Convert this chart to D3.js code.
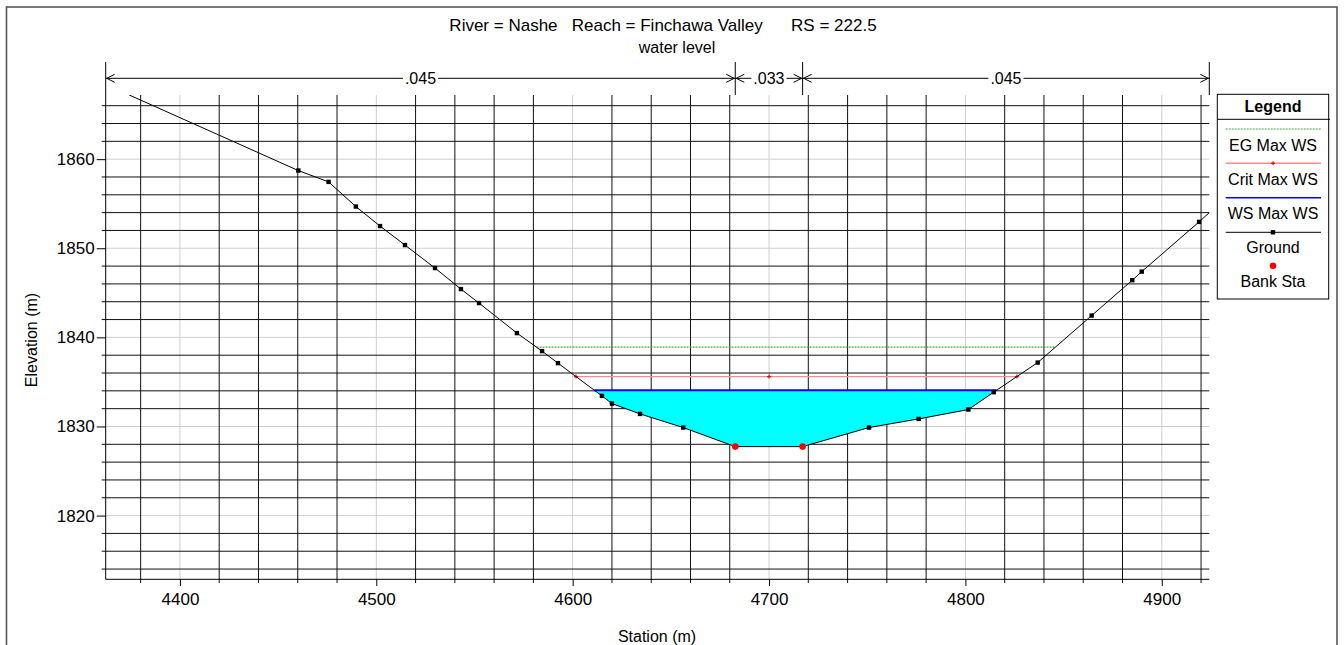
<!DOCTYPE html>
<html>
<head>
<meta charset="utf-8">
<script src="https://cdn.jsdelivr.net/npm/d3@7"></script>
<style>
  body { margin: 0; background: #fff; }
  svg { display: block; font-family: "Liberation Sans", Arial, sans-serif; }
</style>
</head>
<body>
<svg id="chart" width="1344" height="645"></svg>
<script>
// Cross section at RS 222.5 (River Nashe, Reach Finchawa Valley)
const groundStation = [4374.2, 4460.3, 4475.7, 4489.6, 4501.9, 4514.6, 4529.9, 4543.1, 4552.3,
  4571.6, 4584.4, 4592.5, 4614.9, 4620.0, 4634.3, 4656.3, 4682.8, 4717.1, 4750.9, 4776.2,
  4801.5, 4814.4, 4836.8, 4864.3, 4885.0, 4889.8, 4919.0, 4924.2];
const groundElevation = [1867.2, 1858.72, 1857.45, 1854.68, 1852.49, 1850.36, 1847.78, 1845.42, 1843.85,
  1840.48, 1838.46, 1837.11, 1833.43, 1832.57, 1831.41, 1829.88, 1827.74, 1827.74, 1829.88, 1830.85,
  1831.90, 1833.85, 1837.17, 1842.45, 1846.42, 1847.38, 1852.96, 1854.0];

const bankStations = [4682.8, 4717.1];
const wsElevation = 1834.07;     // WS Max WS
const critElevation = 1835.6;    // Crit Max WS
const critMidStations = [4700];  // interior crit point
const egElevation = 1838.9;      // EG Max WS

const manningN = [".045", ".033", ".045"];

const xTickValues = [4400, 4500, 4600, 4700, 4800, 4900];
const yTickValues = [1820, 1830, 1840, 1850, 1860];
const xGridStations = d3.range(4380, 4921, 20);
const yGridElevations = d3.range(1814, 1867, 2);

const legendLabels = ["EG Max WS", "Crit Max WS", "WS Max WS", "Ground", "Bank Sta"];

const EG_COLOR = "#47a447", CRIT_COLOR = "#ff8a8a";

const svg = d3.select("#chart");

const x = d3.scaleLinear().domain([4362.2, 4924.2]).range([105.7, 1209.3]);
const y = d3.scaleLinear().domain([1812.85, 1867.2]).range([579.3, 95]);
const [xL, xR] = x.range();
const [yB, yT] = y.range();

// outer frame
svg.append("rect").attr("x", 6.5).attr("y", 7).attr("width", 1330.5).attr("height", 660)
  .attr("fill", "none").attr("stroke", "#555").attr("stroke-width", 1.6);

// titles
svg.append("text").attr("x", 663).attr("y", 30.5).attr("text-anchor", "middle")
  .attr("font-size", 17).style("white-space", "pre")
  .text("River = Nashe   Reach = Finchawa Valley      RS = 222.5");
svg.append("text").attr("x", 677).attr("y", 53).attr("text-anchor", "middle")
  .attr("font-size", 16).text("water level");

// grid
const grid = svg.append("g");
const isMajorX = s => s % 100 === 0;
const isMajorY = e => e % 10 === 0;
// light major lines first
grid.selectAll(".vmaj").data(xTickValues).join("line")
  .attr("x1", d => x(d)).attr("x2", d => x(d)).attr("y1", yT).attr("y2", yB)
  .attr("stroke", "#cfcfcf").attr("stroke-width", 1);
grid.selectAll(".hmaj").data(yTickValues).join("line")
  .attr("x1", xL).attr("x2", xR).attr("y1", d => y(d)).attr("y2", d => y(d))
  .attr("stroke", "#cfcfcf").attr("stroke-width", 1);
grid.selectAll(".hmin").data(yGridElevations.filter(e => !isMajorY(e))).join("line")
  .attr("x1", xL - 4).attr("x2", xR).attr("y1", d => y(d)).attr("y2", d => y(d))
  .attr("stroke", "#111").attr("stroke-width", 1);
grid.selectAll(".vmin").data(xGridStations.filter(s => !isMajorX(s))).join("line")
  .attr("x1", d => x(d)).attr("x2", d => x(d)).attr("y1", yT).attr("y2", yB + 3.7)
  .attr("stroke", "#111").attr("stroke-width", 1);

// axes (major ticks + labels)
const xAxis = d3.axisBottom(x).tickValues(xTickValues).tickFormat(d3.format("d"))
  .tickSize(6.7).tickPadding(6.5).tickSizeOuter(0);
const yAxis = d3.axisLeft(y).tickValues(yTickValues).tickFormat(d3.format("d"))
  .tickSize(9).tickPadding(2).tickSizeOuter(0);
const gx = svg.append("g").attr("transform", `translate(0,${yB})`).call(xAxis);
const gy = svg.append("g").attr("transform", `translate(${xL},0)`).call(yAxis);
[gx, gy].forEach(g => {
  g.select(".domain").remove();
  g.selectAll("text").attr("font-size", 17).attr("font-family", "Liberation Sans, Arial, sans-serif").attr("fill", "#000");
  g.selectAll("line").attr("stroke", "#000");
});
svg.append("line").attr("x1", xL).attr("x2", xL).attr("y1", 62).attr("y2", yB).attr("stroke", "#000");
svg.append("line").attr("x1", xL).attr("x2", xR).attr("y1", yB).attr("y2", yB).attr("stroke", "#000");

svg.append("text").attr("transform", "translate(31,340) rotate(-90)").attr("text-anchor", "middle")
  .attr("dominant-baseline", "central").attr("font-size", 16).text("Elevation (m)");
svg.append("text").attr("x", 657).attr("y", 642).attr("text-anchor", "middle")
  .attr("font-size", 16).text("Station (m)");

// Manning's n band
const nBounds = [x.domain()[0], bankStations[0], bankStations[1], x.domain()[1]];
const nY = 78.3;
const band = svg.append("g").attr("stroke", "#000").attr("fill", "none");
nBounds.slice(1).forEach(s => {
  band.append("line").attr("x1", x(s)).attr("x2", x(s)).attr("y1", 62).attr("y2", yT);
});
manningN.forEach((label, i) => {
  const a = x(nBounds[i]), b = x(nBounds[i + 1]), mid = (a + b) / 2;
  const t = svg.append("text").attr("x", mid).attr("y", nY).attr("text-anchor", "middle")
    .attr("dominant-baseline", "central").attr("font-size", 16).text(label);
  const w = t.node().getComputedTextLength();
  band.append("line").attr("x1", a).attr("x2", mid - w / 2 - 2).attr("y1", nY).attr("y2", nY);
  band.append("line").attr("x1", mid + w / 2 + 2).attr("x2", b).attr("y1", nY).attr("y2", nY);
  band.append("path").attr("d", `M${a + 9},${nY - 4}L${a + 1},${nY}L${a + 9},${nY + 4}`);
  band.append("path").attr("d", `M${b - 9},${nY - 4}L${b - 1},${nY}L${b - 9},${nY + 4}`);
});

// where a level meets the ground on each side of the thalweg
function crossings(e) {
  const iMin = d3.minIndex(groundElevation);
  const lerp = (i, j) => groundStation[i] + (e - groundElevation[i]) / (groundElevation[j] - groundElevation[i]) * (groundStation[j] - groundStation[i]);
  let left = null, right = null, li = iMin, ri = iMin;
  for (let i = iMin; i > 0; i--) {
    if (groundElevation[i - 1] >= e) { left = lerp(i, i - 1); li = i; break; }
  }
  for (let i = iMin; i < groundStation.length - 1; i++) {
    if (groundElevation[i + 1] >= e) { right = lerp(i, i + 1); ri = i; break; }
  }
  return { left, right, li, ri };
}

const plot = svg.append("g");
svg.append("clipPath").attr("id", "clip").append("rect")
  .attr("x", xL).attr("y", yT).attr("width", xR - xL).attr("height", yB - yT);
plot.attr("clip-path", "url(#clip)");

// water area
const ws = crossings(wsElevation);
const waterPts = [[ws.left, wsElevation]];
for (let i = ws.li; i <= ws.ri; i++) waterPts.push([groundStation[i], groundElevation[i]]);
waterPts.push([ws.right, wsElevation]);
plot.append("path")
  .attr("d", d3.line().x(d => x(d[0])).y(d => y(d[1]))(waterPts) + "Z")
  .attr("fill", "#00ffff").attr("stroke", "none");

// EG line
const eg = crossings(egElevation);
plot.append("line").attr("x1", x(eg.left)).attr("x2", x(eg.right))
  .attr("y1", y(egElevation)).attr("y2", y(egElevation))
  .attr("stroke", EG_COLOR).attr("stroke-width", 1.2).attr("stroke-dasharray", "2,1");

// critical line
const cr = crossings(critElevation);
const critPts = [cr.left, ...critMidStations, cr.right];
plot.append("line").attr("x1", x(cr.left)).attr("x2", x(cr.right))
  .attr("y1", y(critElevation)).attr("y2", y(critElevation))
  .attr("stroke", CRIT_COLOR).attr("stroke-width", 1.4);
const cross = (cx, cy) => `M${cx - 2},${cy}H${cx + 2}M${cx},${cy - 2}V${cy + 2}`;
plot.selectAll(".critm").data(critPts).join("path")
  .attr("d", d => cross(x(d), y(critElevation))).attr("stroke", "#ff0000").attr("stroke-width", 1.2);

// water surface
plot.append("line").attr("x1", x(ws.left)).attr("x2", x(ws.right))
  .attr("y1", y(wsElevation)).attr("y2", y(wsElevation))
  .attr("stroke", "#0000ff").attr("stroke-width", 2);

// ground
const groundPts = groundStation.map((s, i) => [s, groundElevation[i]]);
plot.append("path").attr("d", d3.line().x(d => x(d[0])).y(d => y(d[1]))(groundPts))
  .attr("fill", "none").attr("stroke", "#000").attr("stroke-width", 1);
plot.selectAll(".gm").data(groundPts.filter(d => y(d[1]) > yT + 0.5 && x(d[0]) < xR - 0.5)).join("rect")
  .attr("x", d => x(d[0]) - 2.2).attr("y", d => y(d[1]) - 2.2).attr("width", 4.4).attr("height", 4.4).attr("fill", "#000");

// bank stations
plot.selectAll(".bank").data(bankStations).join("circle")
  .attr("cx", d => x(d)).attr("cy", d => y(groundElevation[groundStation.indexOf(d)]))
  .attr("r", 3.3).attr("fill", "#ff0000");

// legend
const lg = svg.append("g");
const lx0 = 1217.3, lx1 = 1328.7, lcx = (lx0 + lx1) / 2;
lg.append("rect").attr("x", lx0).attr("y", 94.3).attr("width", lx1 - lx0).attr("height", 204.7)
  .attr("fill", "#fff").attr("stroke", "#000");
lg.append("text").attr("x", lcx).attr("y", 106).attr("text-anchor", "middle")
  .attr("dominant-baseline", "central").attr("font-size", 16).attr("font-weight", "bold").text("Legend");
lg.append("line").attr("x1", lx0).attr("x2", lx1 + 1.3).attr("y1", 119.3).attr("y2", 119.3).attr("stroke", "#000");
const sy = [129, 163.3, 197.7, 232.3, 265.7];
const ty = [145.7, 179, 213.7, 247.3, 281];
const sx0 = 1225.7, sx1 = 1321;
lg.append("line").attr("x1", sx0).attr("x2", sx1).attr("y1", sy[0]).attr("y2", sy[0])
  .attr("stroke", EG_COLOR).attr("stroke-width", 1.2).attr("stroke-dasharray", "2,1");
lg.append("line").attr("x1", sx0).attr("x2", sx1).attr("y1", sy[1]).attr("y2", sy[1])
  .attr("stroke", CRIT_COLOR).attr("stroke-width", 1.4);
lg.append("path").attr("d", cross(lcx, sy[1])).attr("stroke", "#ff0000").attr("stroke-width", 1.2);
lg.append("line").attr("x1", sx0).attr("x2", sx1).attr("y1", sy[2]).attr("y2", sy[2]).attr("stroke", "#0000ff").attr("stroke-width", 1.5);
lg.append("line").attr("x1", sx0).attr("x2", sx1).attr("y1", sy[3]).attr("y2", sy[3]).attr("stroke", "#000");
lg.append("rect").attr("x", lcx - 2.2).attr("y", sy[3] - 2.2).attr("width", 4.4).attr("height", 4.4).attr("fill", "#000");
lg.append("circle").attr("cx", lcx).attr("cy", sy[4]).attr("r", 3.3).attr("fill", "#ff0000");
lg.selectAll(".lt").data(legendLabels).join("text")
  .attr("x", lcx).attr("y", (d, i) => ty[i]).attr("text-anchor", "middle")
  .attr("dominant-baseline", "central").attr("font-size", 16).text(d => d);
</script>
</body>
</html>
